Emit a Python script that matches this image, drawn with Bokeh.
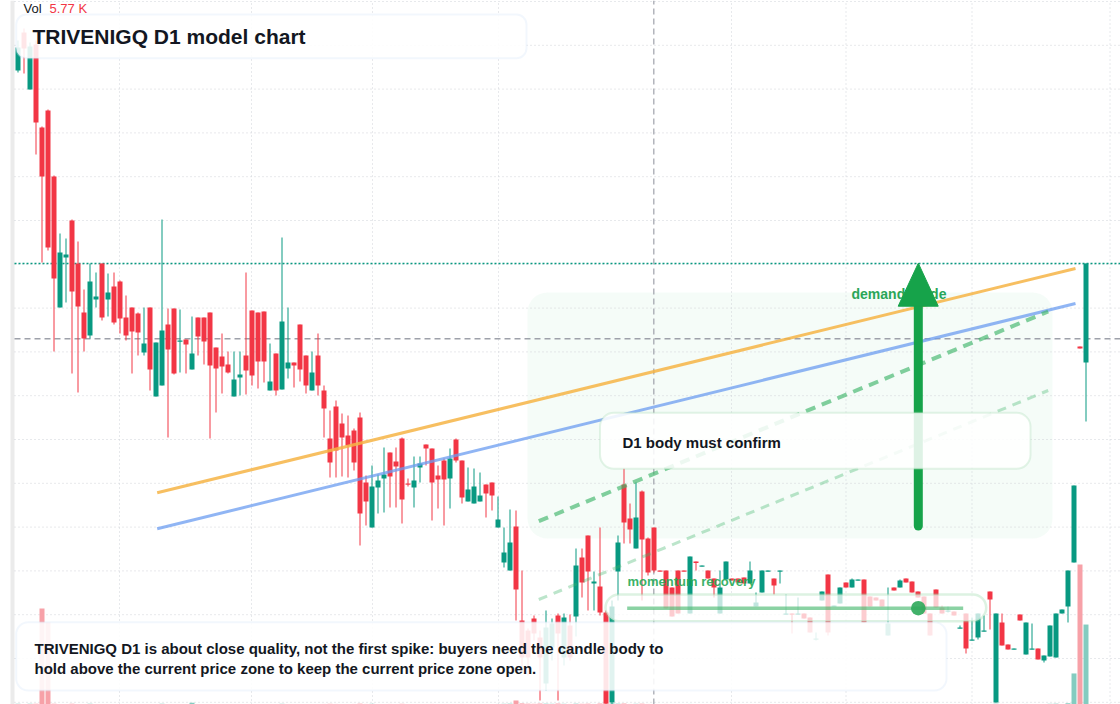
from bokeh.plotting import figure
from bokeh.models import Range1d, BoxAnnotation, Label
from bokeh.core.properties import value
from bokeh.embed import file_html
from bokeh.resources import INLINE

# ---------------- data (price units, one candle per session) ----------------
opens = [73.0, 76.8, 71.1, 75.6, 67.3, 69.0, 62.4, 49.3, 54.3, 58.0,
         53.7, 48.8, 46.5, 50.1, 53.7, 50.1, 51.4, 51.9, 48.3, 49.3,
         48.7, 44.8, 49.3, 40.4, 41.5, 47.6, 49.2, 45.95, 46.1, 43.1,
         48.3, 48.3, 48.8, 45.3, 44.4, 43.6, 40.4, 42.3, 44.5, 49.0,
         48.8, 48.9, 41.0, 44.7, 41.1, 43.2, 43.8, 47.6, 44.5, 41.0,
         44.5, 41.0, 36.2, 39.4, 37.7, 36.5, 37.0, 38.3, 31.8, 27.3,
         31.3, 32.2, 34.8, 33.9, 36.2, 31.7, 31.3, 33.3, 35.6, 35.2,
         32.5, 34.0, 32.2, 36.1, 34.0, 29.9, 29.7, 29.9, 31.6, 31.8,
         27.3, 23.8, 23.0, 27.4, 18.0, 17.0, 18.2, 16.3, 11.7, 15.3,
         18.5, 14.3, 17.5, 18.4, 24.3, 26.5, 21.7, 21.4, 18.8, 9.8,
         22.9, 31.6, 28.2, 25.2, 30.9, 26.2, 27.3, 23.0, 23.0, 21.3,
         23.0, 23.0, 18.7, 23.9, 23.45, 23.0, 22.2, 18.7, 22.1, 22.2,
         22.2, 22.3, 21.7, 19.4, 20.8, 22.95, 22.2, 22.95, 18.65, 18.7,
         18.65, 18.7, 18.3, 16.15, 20.0, 22.6, 19.45, 19.7, 21.8, 21.3,
         22.05, 22.1, 20.4, 20.3, 20.1, 16.5, 21.3, 21.3, 22.2, 21.9,
         20.9, 20.4, 18.7, 21.1, 19.3, 18.95, 18.9, 17.25, 18.7, 16.05,
         16.3, 16.95, 20.9, 9.8, 17.8, 15.6, 15.15, 18.6, 14.6, 15.15,
         15.2, 14.0, 14.4, 14.3, 18.7, 19.4, 23.8, 45.4, 43.8]

highs = [76.0, 77.2, 75.8, 76.0, 67.4, 69.1, 62.5, 56.7, 56.2, 58.1,
         55.9, 51.1, 53.7, 52.8, 53.7, 52.7, 52.8, 52.0, 50.5, 49.3,
         48.8, 49.3, 49.3, 45.8, 58.1, 49.2, 49.2, 49.1, 46.1, 48.4,
         48.3, 48.3, 48.8, 45.3, 46.7, 44.9, 44.9, 44.9, 52.8, 49.0,
         48.8, 48.9, 45.7, 44.7, 56.3, 49.3, 43.8, 47.6, 44.5, 44.9,
         46.7, 41.5, 39.0, 40.0, 38.7, 38.5, 37.2, 38.8, 32.5, 33.5,
         32.6, 35.3, 34.8, 35.3, 36.3, 32.2, 34.4, 34.4, 35.6, 35.2,
         33.5, 34.2, 35.2, 36.2, 34.0, 33.3, 33.2, 32.8, 31.6, 31.8,
         30.4, 27.3, 29.1, 29.0, 23.0, 17.2, 18.5, 17.0, 19.0, 18.2,
         18.7, 18.7, 18.6, 25.2, 25.2, 26.5, 22.9, 27.3, 19.0, 20.0,
         26.5, 33.2, 29.7, 31.8, 31.0, 26.3, 27.3, 23.0, 23.0, 21.3,
         23.0, 23.0, 24.4, 23.9, 23.5, 23.0, 22.2, 23.0, 23.9, 22.2,
         22.2, 22.3, 23.9, 20.8, 23.0, 23.0, 22.2, 23.0, 20.6, 18.7,
         20.3, 18.7, 18.3, 16.8, 20.9, 22.6, 19.5, 21.3, 21.8, 22.2,
         22.1, 22.1, 20.4, 20.3, 20.1, 21.3, 21.3, 22.1, 22.2, 21.9,
         20.9, 20.4, 18.7, 21.1, 19.5, 19.4, 18.9, 17.5, 18.7, 18.3,
         18.7, 18.5, 20.9, 18.7, 18.7, 15.6, 15.2, 18.6, 17.8, 17.7,
         15.2, 14.5, 17.5, 18.7, 19.1, 23.0, 31.5, 45.4, 53.7]

lows = [72.8, 72.7, 71.1, 64.6, 53.8, 55.0, 44.9, 49.3, 49.8, 42.7,
        40.8, 44.9, 46.2, 49.3, 48.0, 48.4, 47.6, 46.7, 46.0, 42.7,
        44.5, 44.5, 41.0, 40.4, 41.5, 36.3, 42.6, 42.8, 42.7, 43.1,
        44.5, 43.6, 36.2, 38.8, 40.7, 42.7, 40.4, 40.5, 40.6, 41.5,
        41.2, 41.8, 41.0, 40.5, 41.1, 42.2, 41.3, 41.9, 40.7, 41.0,
        40.5, 36.3, 32.3, 32.3, 32.4, 32.3, 33.0, 25.5, 27.5, 27.3,
        28.7, 28.8, 29.3, 29.3, 27.7, 31.4, 29.3, 31.8, 33.5, 28.0,
        29.2, 27.5, 29.2, 33.8, 29.7, 29.9, 29.7, 29.9, 28.3, 29.0,
        27.3, 23.3, 23.0, 18.0, 12.8, 12.5, 16.0, 10.0, 11.0, 14.0,
        10.0, 13.5, 14.0, 16.4, 20.3, 19.0, 19.0, 18.5, 9.6, 9.6,
        20.0, 25.7, 25.7, 25.2, 20.0, 22.5, 22.8, 22.9, 19.2, 18.4,
        18.7, 22.9, 18.7, 23.0, 23.4, 22.2, 20.3, 18.7, 22.1, 22.0,
        21.8, 21.7, 21.7, 19.4, 20.8, 22.9, 20.6, 21.7, 18.6, 16.7,
        18.6, 18.2, 16.8, 16.0, 20.0, 16.5, 19.4, 19.7, 21.3, 21.3,
        22.0, 17.8, 19.4, 20.0, 19.4, 16.5, 21.0, 21.3, 21.8, 20.8,
        20.3, 18.7, 16.5, 19.3, 18.7, 18.8, 18.5, 17.2, 14.7, 16.0,
        16.1, 16.9, 17.1, 9.8, 15.5, 15.1, 15.1, 18.0, 14.6, 15.1,
        14.1, 13.8, 14.4, 14.3, 18.7, 17.8, 23.8, 45.2, 37.9]

closes = [75.3, 75.2, 75.4, 67.8, 62.4, 55.3, 52.2, 54.8, 54.6, 50.9,
          49.4, 46.2, 51.9, 50.4, 48.3, 50.8, 47.8, 48.2, 46.5, 46.9,
          46.8, 45.7, 43.1, 45.8, 47.0, 45.1, 42.7, 46.0, 45.6, 44.7,
          46.4, 45.9, 43.5, 43.2, 43.4, 42.8, 42.1, 42.6, 43.0, 42.5,
          43.9, 43.9, 41.9, 41.0, 47.9, 43.8, 43.5, 43.1, 41.5, 42.8,
          41.5, 39.2, 33.8, 35.0, 36.3, 35.5, 33.8, 28.7, 29.9, 31.4,
          32.0, 32.6, 32.4, 33.4, 30.1, 31.6, 32.0, 33.7, 35.2, 31.8,
          32.1, 32.1, 34.2, 34.0, 30.3, 31.1, 31.4, 30.5, 30.7, 30.5,
          28.1, 24.8, 25.8, 21.1, 14.3, 14.3, 16.7, 14.3, 17.3, 17.7,
          16.7, 18.3, 14.3, 23.5, 21.8, 22.9, 21.9, 18.8, 9.7, 19.4,
          25.8, 27.8, 27.1, 28.3, 26.1, 22.8, 23.0, 22.9, 19.2, 18.4,
          18.7, 22.95, 24.4, 23.75, 23.5, 22.2, 21.3, 21.3, 23.9, 22.0,
          21.8, 21.7, 23.0, 19.8, 23.0, 23.0, 21.5, 23.0, 18.7, 18.65,
          18.7, 18.2, 16.8, 16.2, 20.9, 16.8, 19.5, 21.3, 21.3, 22.1,
          22.1, 17.8, 19.4, 20.0, 19.4, 17.7, 21.0, 22.0, 21.8, 20.8,
          20.3, 18.7, 16.5, 19.3, 18.7, 19.0, 18.5, 17.3, 15.2, 16.1,
          18.7, 17.0, 20.1, 18.7, 15.5, 15.1, 15.2, 18.0, 17.8, 15.2,
          14.1, 14.5, 17.5, 18.7, 19.1, 23.0, 31.5, 45.2, 53.7]

# volume in thousands
volumes = [0.05, 0.04, 0.06, 0.05, 6.92, 5.90, 0.06, 0.04, 0.03, 0.05,
           0.04, 0.03, 0.05, 0.02, 0.03, 0.02, 0.03, 0.04, 0.02, 0.03,
           0.02, 0.03, 0.04, 0.03, 0.05, 0.04, 0.03, 0.02, 0.03, 0.12,
           0.03, 0.02, 0.04, 0.03, 0.02, 0.02, 0.03, 0.02, 0.04, 0.03,
           0.03, 0.02, 0.02, 0.03, 0.05, 0.02, 0.02, 0.03, 0.02, 0.02,
           0.03, 0.04, 0.05, 0.04, 0.03, 0.03, 0.04, 0.06, 0.04, 0.05,
           0.03, 0.03, 0.04, 0.02, 0.05, 0.02, 0.03, 0.02, 0.03, 0.04,
           0.02, 0.03, 0.03, 0.02, 0.04, 0.03, 0.03, 0.02, 0.03, 0.03,
           0.04, 0.05, 0.06, 0.29, 0.08, 0.06, 0.05, 0.07, 0.06, 0.05,
           0.07, 0.05, 0.04, 0.06, 0.05, 0.06, 0.04, 0.07, 0.09, 0.08,
           0.06, 0.07, 0.04, 0.05, 0.06, 0.04, 0.03, 0.02, 0.04, 0.03,
           0.03, 0.02, 0.04, 0.02, 0.02, 0.03, 0.03, 0.03, 0.03, 0.02,
           0.02, 0.02, 0.03, 0.02, 0.03, 0.02, 0.03, 0.02, 0.02, 0.02,
           0.02, 0.02, 0.03, 0.02, 0.02, 0.04, 0.02, 0.03, 0.02, 0.03,
           0.02, 0.04, 0.02, 0.02, 0.02, 0.03, 0.02, 0.03, 0.02, 0.02,
           0.02, 0.03, 0.03, 0.02, 0.02, 0.02, 0.02, 0.02, 0.04, 0.02,
           0.03, 0.02, 0.03, 0.06, 0.04, 0.02, 0.02, 0.02, 0.04, 0.02,
           0.03, 0.02, 0.05, 0.06, 0.03, 0.09, 2.24, 10.10, 5.77]

# unlabeled grid positions (price) and month boundaries (candle index)
price_grid = [79.9, 75.52, 71.14, 66.76, 62.38, 58.0, 53.62, 49.24, 44.86,
              40.48, 36.1, 31.72, 27.34, 22.96, 18.58, 14.2, 9.82]
time_grid = [16.92, 38.92, 59.08, 80.08, 118.92, 138.0, 159.0, 182.0]

TITLE = "TRIVENIGQ D1 model chart"
NOTE_1 = "TRIVENIGQ D1 is about close quality, not the first spike: buyers need the candle body to"
NOTE_2 = "hold above the current price zone to keep the current price zone open."

# ---------------- styling ----------------
FONT = "Liberation Sans"
GREEN = "#089981"
RED = "#f23645"
X0, X1 = -2.9167, 183.75
Y0, Y1 = 9.6, 80.0
GX0 = -0.583

n = len(opens)
idx = list(range(n))
is_up = [c >= o for o, c in zip(opens, closes)]
colors = [GREEN if u else RED for u in is_up]
body_top = [max(o, c) for o, c in zip(opens, closes)]
body_bot = [min(min(o, c), max(o, c) - 0.12) for o, c in zip(opens, closes)]

p = figure(width=1120, height=704, x_range=Range1d(X0, X1), y_range=Range1d(Y0, Y1),
           output_backend="svg", toolbar_location=None,
           x_axis_location=None, y_axis_location=None, min_border=0,
           outline_line_color=None, background_fill_color="white",
           border_fill_color="white")
p.grid.visible = False
p.extra_y_ranges = {"vol": Range1d(0, 50.8)}

# light demand zone
p.add_layout(BoxAnnotation(left=84.92, right=172.42, top=50.8, bottom=26.2,
                           fill_color="#22c55e", fill_alpha=0.045, line_color=None,
                           border_radius=20, level="underlay"))
# left scale separator
p.add_layout(BoxAnnotation(left=-1.25, right=-0.583, fill_color="#ebebeb",
                           fill_alpha=1, line_color=None, level="underlay"))

# dotted grid
p.segment(x0=[GX0] * len(price_grid), y0=price_grid, x1=[X1] * len(price_grid), y1=price_grid,
          line_color="#cfd2d8", line_dash="1 3", line_width=1)
p.segment(x0=time_grid, y0=[Y0] * len(time_grid), x1=time_grid, y1=[Y1] * len(time_grid),
          line_color="#cfd2d8", line_dash="1 3", line_width=1)

# volume
vol_colors = ["#84ccc0" if u else "#f7a1a8" for u in is_up]
p.vbar(x=idx, top=volumes, bottom=0, width=0.8333, fill_color=vol_colors,
       line_color=None, y_range_name="vol")

# crosshair
CX, CY = 105.97, 46.17
p.segment(x0=[CX], y0=[Y0], x1=[CX], y1=[Y1], line_color="#9ea1aa", line_dash="6 4", line_width=1.2)
p.segment(x0=[GX0], y0=[CY], x1=[X1], y1=[CY], line_color="#9ea1aa", line_dash="6 4", line_width=1.5)

# last price line
p.segment(x0=[GX0], y0=[closes[-1]], x1=[X1], y1=[closes[-1]], line_color=GREEN,
          line_dash="2 2", line_width=1.5)

# candles
p.segment(x0=idx, y0=lows, x1=idx, y1=highs, line_color=colors, line_width=1)
p.vbar(x=idx, top=body_top, bottom=body_bot, width=0.8333, fill_color=colors, line_color=None)

# trend lines
p.line(x=[23.2, 176.25], y=[30.77, 53.2], line_color="#f6b445", line_alpha=0.85, line_width=3)
p.line(x=[23.2, 176.25], y=[27.17, 49.7], line_color="#6b9cf0", line_alpha=0.75, line_width=3)
p.line(x=[86.8, 171.7], y=[27.93, 48.9], line_color="#3fb56a", line_alpha=0.65,
       line_width=4, line_dash="10 7")
p.line(x=[86.8, 171.7], y=[20.1, 41.0], line_color="#3fb56a", line_alpha=0.35,
       line_width=3, line_dash="9 7")

# demand guide label + arrow
p.text(x=[138.92], y=[50.66], text=["demand guide"], text_font=value(FONT),
       text_font_style="bold", text_font_size="14px", text_color="#2aa658",
       text_baseline="middle")
ARROW_X = 150.05
p.segment(x0=[ARROW_X], y0=[27.45], x1=[ARROW_X], y1=[49.6], line_color="#16a34a",
          line_width=9, line_cap="round")
p.patch(x=[146.7, 153.37, ARROW_X], y=[49.43, 49.43, 53.73], fill_color="#16a34a",
        line_color="#16a34a", line_width=1)

# boxes
p.add_layout(BoxAnnotation(left=97.0, right=168.75, top=38.77, bottom=33.17,
                           fill_color="white", fill_alpha=0.86, line_color="#a6dbb4",
                           line_width=2, border_radius=14))
p.add_layout(BoxAnnotation(left=97.92, right=161.37, top=20.6, bottom=17.93,
                           fill_color="white", fill_alpha=0.75, line_color="#8fd3a0",
                           line_width=2.5, border_radius=14))
p.add_layout(BoxAnnotation(left=-0.3, right=154.75, top=17.83, bottom=11.0,
                           fill_color="white", fill_alpha=0.88, line_color="#d5e3f7",
                           line_width=2, border_radius=12))
p.add_layout(BoxAnnotation(left=-0.3, right=84.75, top=78.6, bottom=74.23,
                           fill_color="white", fill_alpha=0.88, line_color="#d5e3f7",
                           line_width=2, border_radius=10))

# momentum line and marker
p.line(x=[101.53, 157.53], y=[19.23, 19.23], line_color="#3cb465", line_alpha=0.6,
       line_width=3.5, level="overlay")
p.scatter(x=[ARROW_X], y=[19.23], size=14.6, fill_color="#2ea85a", fill_alpha=0.9,
          line_color=None, level="overlay")

def label(x, y, text, size, color, bold=True, alpha=1.0):
    p.add_layout(Label(x=x, y=y, text=text, text_font=FONT,
                       text_font_style="bold" if bold else "normal",
                       text_font_size=size, text_color=color, text_alpha=alpha,
                       text_baseline="middle", level="overlay"))

label(2.42, 76.4, TITLE, "21px", "#131722")
label(0.92, 79.18, "Vol", "13px", "#131722", bold=False)
label(5.25, 79.18, f"{volumes[-1]:.2f} K", "13px", RED, bold=False)
label(100.75, 35.8, "D1 body must confirm", "15px", "#131722")
label(101.58, 21.86, "momentum recovery", "13px", "#22a854", alpha=0.9)
label(2.75, 15.2, NOTE_1, "15px", "#131722")
label(2.75, 13.2, NOTE_2, "15px", "#131722")

open("out.html", "w").write(file_html(p, INLINE))
